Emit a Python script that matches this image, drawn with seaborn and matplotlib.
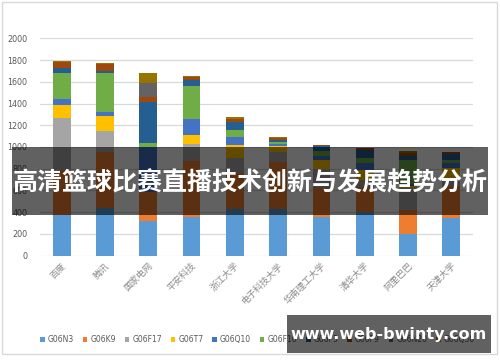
import numpy as np
import pandas as pd
import matplotlib
matplotlib.use("Agg")
import matplotlib.pyplot as plt
import seaborn as sns
from matplotlib.patches import Rectangle, Patch

categories = ["百度", "腾讯", "国家电网", "平安科技", "浙江大学", "电子科技大学",
              "华南理工大学", "清华大学", "阿里巴巴", "天津大学"]
series_names = ["G06N3", "G06K9", "G06F17", "G06T7", "G06Q10", "G06F16",
                "G06F3", "G06F9", "G06N20", "G06Q50"]

G06N3  = [375, 436, 322, 360, 430, 430, 355, 400, 197, 344]
G06K9  = [413, 521, 267, 511, 328, 430, 265, 235, 223, 296]
G06F17 = [482, 190, 0, 154, 144, 90, 175, 65, 200, 60]
G06T7  = [116, 138, 0, 85, 119, 60, 85, 90, 20, 110]
G06Q10 = [53, 34, 411, 145, 68, 20, 40, 60, 20, 40]
G06F16 = [239, 359, 34, 306, 67, 20, 40, 50, 220, 30]
G06F3  = [46, 24, 377, 55, 71, 15, 45, 70, 37, 55]
G06F9  = [55, 59, 46, 31, 31, 15, 10, 18, 25, 15]
G06N20 = [0, 0, 129, 0, 0, 0, 0, 0, 0, 0]
G06Q50 = [15, 10, 98, 8, 21, 16, 5, 0, 24, 5]

yticks = [0, 200, 400, 600, 800, 1000, 1200, 1400, 1600, 1800, 2000]

colors = ["#5B9BD5", "#ED7D31", "#A5A5A5", "#FFC000", "#4472C4", "#70AD47",
          "#255E91", "#9E480E", "#636363", "#997300"]

values = [G06N3, G06K9, G06F17, G06T7, G06Q10, G06F16, G06F3, G06F9, G06N20, G06Q50]
df = pd.DataFrame({n: v for n, v in zip(series_names, values)}, index=categories)
cum = df.cumsum(axis=1)

sns.set_theme(style="white")
plt.rcParams['font.family'] = ['Noto Sans CJK SC', 'DejaVu Sans']

fig = plt.figure(figsize=(5.0, 3.62), dpi=100)
ax = fig.add_axes([40/500, 1-255.7/362, (473-40)/500, (255.7-38.3)/362])

for i in range(len(series_names)-1, -1, -1):
    d = pd.DataFrame({"cat": categories, "val": cum[series_names[i]].values})
    sns.barplot(data=d, x="cat", y="val", color=colors[i], saturation=1,
                width=0.41, ax=ax, zorder=3, linewidth=0, edgecolor="none")

ax.set_ylim(0, 2000)
ax.set_xlim(-0.5, len(categories)-0.5)
ax.set_yticks(yticks)
ax.set_yticklabels([str(t) for t in yticks], fontsize=5.8, color="#595959",
                   family="DejaVu Sans")
ax.yaxis.grid(True, color="#D9D9D9", linewidth=0.9, zorder=0)
ax.set_axisbelow(True)
for s in ax.spines.values():
    s.set_visible(False)
ax.tick_params(axis="y", length=0, pad=9)
ax.tick_params(axis="x", length=0, pad=4)
ax.set_xlabel("")
ax.set_ylabel("")
ax.set_xticks(range(len(categories)))
ax.set_xticklabels(categories, rotation=45, ha="right", rotation_mode="anchor",
                   fontsize=6.5, color="#8C8C8C")

handles = [Patch(facecolor=c, edgecolor="none") for c in colors]
fig.legend(handles, series_names, loc="center", bbox_to_anchor=(0.515, 1-339.5/362),
           ncol=10, frameon=False, handlelength=0.6, handleheight=0.6,
           handletextpad=0.4, columnspacing=1.15, labelcolor="#595959",
           prop={"family": "DejaVu Sans", "size": 5.5})

# chart frame
fig.patches.append(Rectangle((2/500, 1-354/362), 495/500, 352/362,
                             transform=fig.transFigure, fill=False,
                             edgecolor="#D9D9D9", linewidth=1.0))

# title banner overlay
fig.patches.append(Rectangle((12/500, 1-215/362), (488-12)/500, (215-146.7)/362,
                             transform=fig.transFigure, facecolor="black",
                             alpha=0.62, edgecolor="none", zorder=10))
fig.text(0.5, 1-183/362, "高清篮球比赛直播技术创新与发展趋势分析", ha="center",
         va="center", fontsize=18, fontweight="bold", color="white", zorder=11)

# watermark overlay
fig.patches.append(Rectangle((287/500, 1-352.7/362), (491-287)/500, (352.7-315)/362,
                             transform=fig.transFigure, facecolor="black",
                             alpha=0.62, edgecolor="none", zorder=10))
fig.text(389/500, 1-334.5/362, "www.web-bwinty.com", ha="center", va="center",
         fontsize=11.5, fontweight="bold", color="white", zorder=11,
         family="DejaVu Sans")

fig.savefig("out.png", dpi=100)
